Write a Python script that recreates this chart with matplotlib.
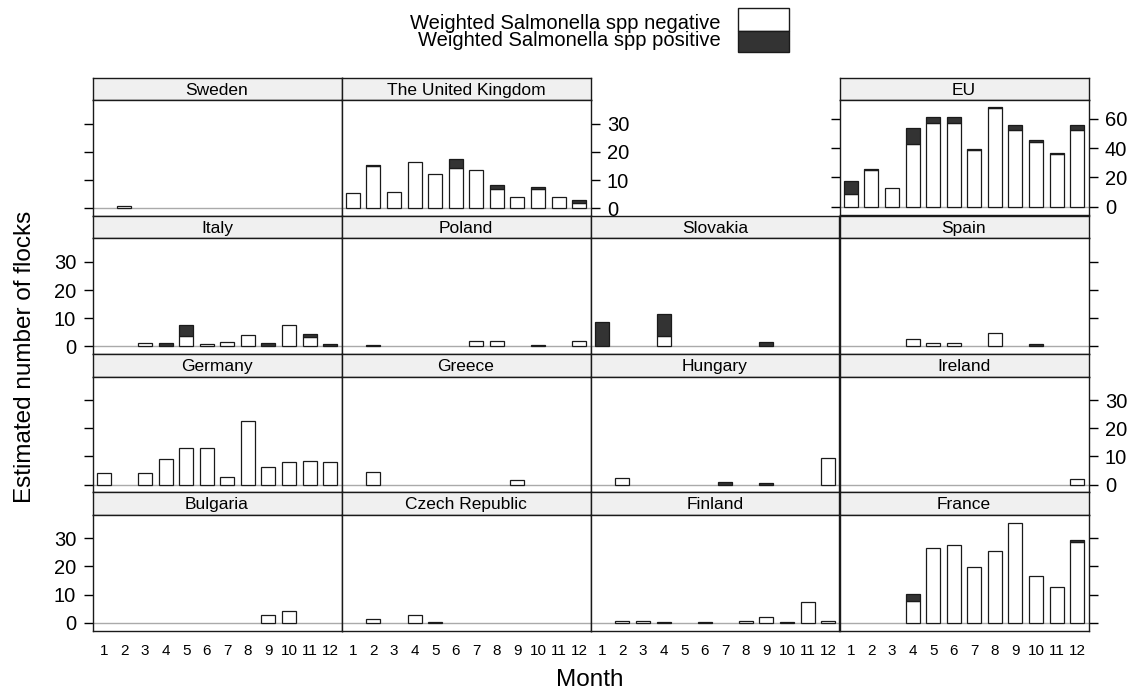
"""Monthly estimated number of flocks by country, lattice-style stacked bars."""

import matplotlib
matplotlib.use("Agg")
import matplotlib.pyplot as plt
import numpy as np
from matplotlib.patches import Rectangle

plt.rcParams["font.family"] = ["Liberation Sans", "DejaVu Sans"]

months = list(range(1, 13))

sweden_neg = [0, 0.8, 0, 0, 0, 0, 0, 0, 0, 0, 0, 0]
sweden_pos = [0, 0, 0, 0, 0, 0, 0, 0, 0, 0, 0, 0]
uk_neg = [5.5, 14.9, 5.8, 16.5, 12.2, 14.3, 13.5, 6.9, 4.0, 7.0, 4.0, 1.9]
uk_pos = [0, 0.5, 0, 0, 0, 3.0, 0, 1.4, 0, 0.6, 0, 1.1]
eu_neg = [8.5, 24.7, 12.4, 42.9, 56.9, 57.3, 38.4, 67.0, 52.6, 43.8, 36.0, 52.6]
eu_pos = [8.8, 0.9, 0, 11.0, 4.0, 3.6, 0.9, 0.9, 3.1, 2.0, 0.6, 3.1]
italy_neg = [0, 0, 1.3, 0, 3.7, 0.8, 1.6, 4.1, 0, 7.6, 3.5, 0]
italy_pos = [0, 0, 0, 1.3, 3.9, 0, 0, 0, 1.3, 0, 0.9, 0.8]
poland_neg = [0, 0, 0, 0, 0, 0, 2.1, 2.1, 0, 0, 0, 2.1]
poland_pos = [0, 0.6, 0, 0, 0, 0, 0, 0, 0, 0.6, 0, 0]
slovakia_neg = [0, 0, 0, 3.6, 0, 0, 0, 0, 0, 0, 0, 0]
slovakia_pos = [8.7, 0, 0, 7.9, 0, 0, 0, 0, 1.6, 0, 0, 0]
spain_neg = [0, 0, 0, 2.8, 1.2, 1.2, 0, 4.8, 0, 0, 0, 0]
spain_pos = [0, 0, 0, 0, 0, 0, 0, 0, 0, 0.8, 0, 0]
germany_neg = [4.0, 0, 4.0, 9.1, 13.0, 13.0, 2.8, 22.6, 6.3, 7.9, 8.4, 7.9]
germany_pos = [0, 0, 0, 0, 0, 0, 0, 0, 0, 0, 0, 0]
greece_neg = [0, 4.4, 0, 0, 0, 0, 0, 0, 1.6, 0, 0, 0]
greece_pos = [0, 0, 0, 0, 0, 0, 0, 0, 0, 0, 0, 0]
hungary_neg = [0, 2.3, 0, 0, 0, 0, 0, 0, 0, 0, 0, 9.5]
hungary_pos = [0, 0, 0, 0, 0, 0, 0.9, 0, 0.5, 0, 0, 0]
ireland_neg = [0, 0, 0, 0, 0, 0, 0, 0, 0, 0, 0, 2.0]
ireland_pos = [0, 0, 0, 0, 0, 0, 0, 0, 0, 0, 0, 0]
bulgaria_neg = [0, 0, 0, 0, 0, 0, 0, 0, 2.7, 4.3, 0, 0]
bulgaria_pos = [0, 0, 0, 0, 0, 0, 0, 0, 0, 0, 0, 0]
czech_neg = [0, 1.2, 0, 2.7, 0.2, 0, 0, 0, 0, 0, 0, 0]
czech_pos = [0, 0, 0, 0, 0, 0, 0, 0, 0, 0, 0, 0]
finland_neg = [0, 0.7, 0.7, 0, 0, 0, 0, 0.7, 2.0, 0, 7.4, 0.7]
finland_pos = [0, 0, 0, 0.4, 0, 0.4, 0, 0, 0, 0.4, 0, 0]
france_neg = [0, 0, 0, 7.7, 26.4, 27.6, 19.8, 25.6, 35.5, 16.5, 12.6, 28.5]
france_pos = [0, 0, 0, 2.5, 0, 0, 0, 0, 0, 0, 0, 1.0]

# (name, negative, positive, row, col)
panels = [
    ("Sweden", sweden_neg, sweden_pos, 0, 0),
    ("The United Kingdom", uk_neg, uk_pos, 0, 1),
    ("Italy", italy_neg, italy_pos, 1, 0),
    ("Poland", poland_neg, poland_pos, 1, 1),
    ("Slovakia", slovakia_neg, slovakia_pos, 1, 2),
    ("Spain", spain_neg, spain_pos, 1, 3),
    ("Germany", germany_neg, germany_pos, 2, 0),
    ("Greece", greece_neg, greece_pos, 2, 1),
    ("Hungary", hungary_neg, hungary_pos, 2, 2),
    ("Ireland", ireland_neg, ireland_pos, 2, 3),
    ("Bulgaria", bulgaria_neg, bulgaria_pos, 3, 0),
    ("Czech Republic", czech_neg, czech_pos, 3, 1),
    ("Finland", finland_neg, finland_pos, 3, 2),
    ("France", france_neg, france_pos, 3, 3),
]

W, H = 1133, 694
COL_X = [92.5, 341.5, 590.5, 839.5, 1088.5]
ROW_Y = [77.7, 215.9, 354.1, 492.3, 630.5]
STRIP_H = 22.5
NEG_COLOR = "white"
POS_COLOR = "#333333"
EDGE = "#1a1a1a"
STRIP_BG = "#f0f0f0"


def fig_rect(x0, y0, x1, y1):
    return [x0 / W, 1 - y1 / H, (x1 - x0) / W, (y1 - y0) / H]


def draw_panel(fig, name, neg, pos, x0, x1, ytop, ybot, ylim):
    strip = fig.add_axes(fig_rect(x0, ytop, x1, ytop + STRIP_H))
    strip.set_facecolor(STRIP_BG)
    strip.set_xticks([])
    strip.set_yticks([])
    for s in strip.spines.values():
        s.set_linewidth(1.0)
        s.set_color(EDGE)
    strip.text(0.5, 0.45, name, ha="center", va="center", fontsize=12.5,
               transform=strip.transAxes)

    ax = fig.add_axes(fig_rect(x0, ytop + STRIP_H, x1, ybot))
    neg = np.asarray(neg, dtype=float)
    pos = np.asarray(pos, dtype=float)
    m = np.asarray(months)
    ax.axhline(0, color="#aaaaaa", lw=1.0, zorder=1)
    keep = neg > 0
    ax.bar(m[keep], neg[keep], width=0.68, color=NEG_COLOR, edgecolor=EDGE,
           linewidth=0.9, zorder=2)
    keep = pos > 0
    ax.bar(m[keep], pos[keep], bottom=neg[keep], width=0.68, color=POS_COLOR,
           edgecolor=EDGE, linewidth=0.9, zorder=2)
    ax.set_xlim(0.45, 12.55)
    ax.set_ylim(*ylim)
    for s in ax.spines.values():
        s.set_linewidth(1.0)
        s.set_color(EDGE)
    ax.tick_params(axis="y", direction="out", length=6.3, width=1.0,
                   pad=5.5, labelsize=14.5, left=False, right=False,
                   labelleft=False, labelright=False)
    ax.tick_params(axis="x", length=0, pad=9.5, labelsize=11,
                   bottom=False, labelbottom=False)
    ax.set_xticks(months)
    return ax


fig = plt.figure(figsize=(W / 100, H / 100), dpi=100)

for name, neg, pos, row, col in panels:
    ax = draw_panel(fig, name, neg, pos, COL_X[col], COL_X[col + 1],
                    ROW_Y[row], ROW_Y[row + 1], (-2.7, 38.3))
    ax.set_yticks([0, 10, 20, 30])
    last_col = 1 if row == 0 else 3
    if col == 0:
        ax.tick_params(axis="y", left=True, labelleft=row in (1, 3))
    if col == last_col:
        ax.tick_params(axis="y", right=True, labelright=row in (0, 2))
    if row == 3:
        ax.tick_params(axis="x", labelbottom=True)

# EU panel on its own scale
eu_ax = draw_panel(fig, "EU", eu_neg, eu_pos, COL_X[3], COL_X[4],
                   ROW_Y[0], ROW_Y[1] - 1, (-5.6, 72.6))
eu_ax.set_yticks([0, 20, 40, 60])
eu_ax.tick_params(axis="y", left=True, right=True, labelright=True)

# legend
fig.text(721 / W, 1 - 29 / H, "Weighted Salmonella spp negative",
         ha="right", va="baseline", fontsize=14.5)
fig.text(721 / W, 1 - 46.5 / H, "Weighted Salmonella spp positive",
         ha="right", va="baseline", fontsize=14.5)
for y0, y1, c in [(8, 31, NEG_COLOR), (31, 52, POS_COLOR)]:
    r = fig_rect(738, y0, 789, y1)
    fig.add_artist(Rectangle((r[0], r[1]), r[2], r[3], transform=fig.transFigure,
                             facecolor=c, edgecolor=EDGE, linewidth=1.0))

fig.text(25 / W, 1 - 357 / H, "Estimated number of flocks", rotation=90,
         ha="center", va="center", fontsize=17.5)
fig.text(590 / W, 1 - 680 / H, "Month", ha="center", va="center", fontsize=17.5)

fig.savefig("out.png", dpi=100)
